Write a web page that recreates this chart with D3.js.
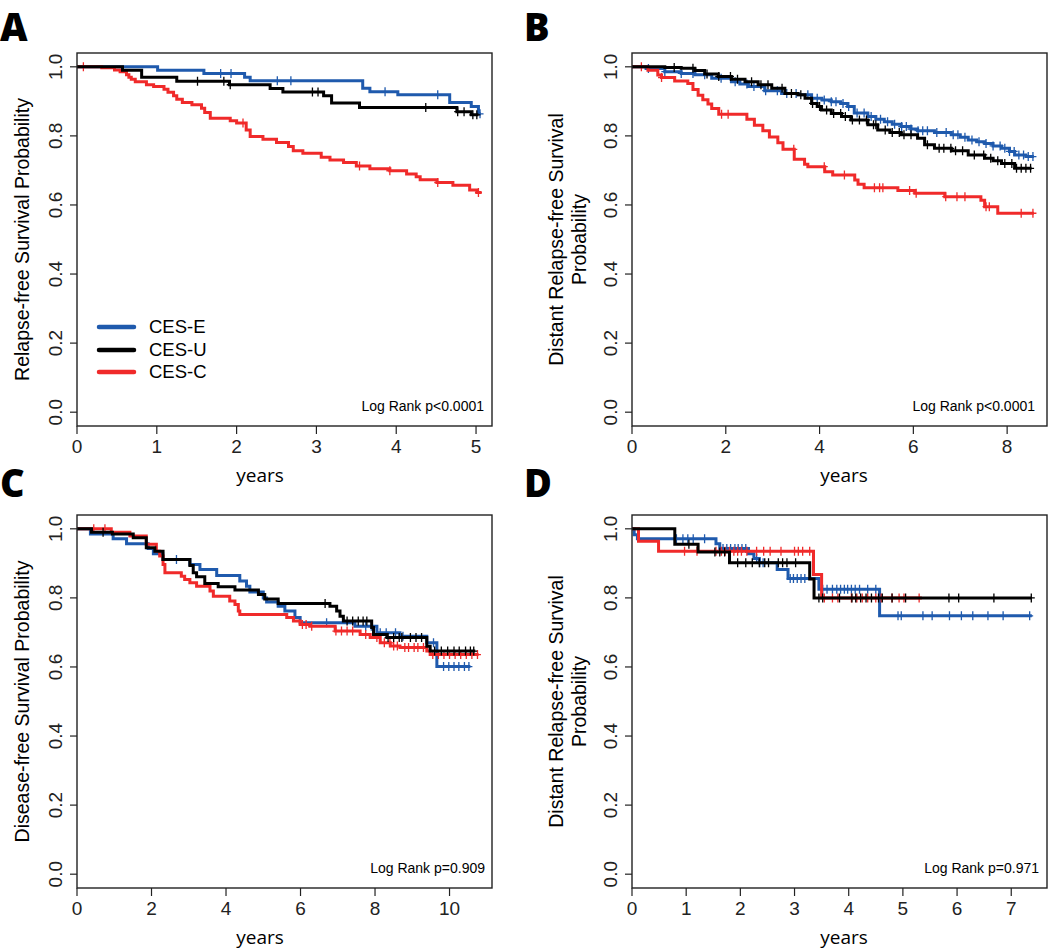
<!DOCTYPE html>
<html>
<head>
<meta charset="utf-8">
<script src="https://cdn.jsdelivr.net/npm/d3@7"></script>
<style>
  body { margin: 0; background: #fff; }
  svg { display: block; }
</style>
</head>
<body>
<svg width="1050" height="950"></svg>
<script>
// ---- panel A : relapse-free survival ----
const A_E_t = [0, 1.01, 1.59, 2.10, 2.17, 3.58, 3.67, 4.02, 4.67, 4.94, 5.03, 5.06]
const A_E_s = [1, 0.990, 0.981, 0.970, 0.960, 0.938, 0.928, 0.919, 0.897, 0.885, 0.864, 0.864]
const A_E_c = [1.80, 1.93, 2.51, 2.68, 3.86, 4.52, 5.05]
const A_U_t = [0, 0.57, 0.81, 1.25, 1.91, 2.42, 2.58, 3.09, 3.19, 3.54, 4.76, 4.94, 5.03]
const A_U_s = [1, 0.990, 0.970, 0.958, 0.948, 0.937, 0.927, 0.916, 0.895, 0.882, 0.870, 0.861, 0.861]
const A_U_c = [1.51, 1.84, 1.92, 2.95, 3.02, 4.37, 4.77, 4.85, 4.96, 5.01]
const A_C_t = [0, 0.31, 0.47, 0.54, 0.62, 0.65, 0.68, 0.73, 0.87, 0.96, 1.09, 1.14, 1.21, 1.25, 1.32, 1.44, 1.56, 1.60, 1.67, 1.92, 2.00, 2.12, 2.17, 2.33, 2.50, 2.65, 2.71, 2.83, 3.06, 3.17, 3.34, 3.50, 3.67, 3.92, 4.13, 4.25, 4.30, 4.51, 4.71, 4.92, 5.01, 5.07]
const A_C_s = [1, 0.997, 0.991, 0.986, 0.977, 0.970, 0.964, 0.957, 0.948, 0.943, 0.935, 0.926, 0.916, 0.906, 0.897, 0.890, 0.880, 0.868, 0.851, 0.844, 0.837, 0.817, 0.798, 0.790, 0.781, 0.769, 0.757, 0.750, 0.738, 0.730, 0.723, 0.713, 0.705, 0.699, 0.690, 0.682, 0.673, 0.665, 0.657, 0.643, 0.636, 0.636]
const A_C_c = [0.08, 2.08, 3.54, 3.92, 4.52, 5.03]

// ---- panel B : distant relapse-free survival ----
const B_E_t = [0, 0.30, 0.70, 1.05, 1.34, 1.70, 2.12, 2.30, 2.48, 2.83, 3.19, 3.54, 3.83, 4.05, 4.25, 4.45, 4.60, 4.74, 5.03, 5.20, 5.38, 5.55, 5.74, 5.95, 6.09, 6.45, 6.81, 7.00, 7.17, 7.35, 7.52, 7.70, 7.88, 8.05, 8.16, 8.40, 8.57]
const B_E_s = [1, 0.995, 0.986, 0.981, 0.977, 0.967, 0.957, 0.950, 0.943, 0.931, 0.923, 0.919, 0.909, 0.904, 0.899, 0.894, 0.885, 0.866, 0.856, 0.848, 0.841, 0.834, 0.827, 0.820, 0.815, 0.810, 0.803, 0.796, 0.788, 0.783, 0.778, 0.771, 0.764, 0.755, 0.745, 0.740, 0.740]
const B_E_c = [0.35, 0.70, 1.05, 1.30, 1.55, 1.90, 2.20, 2.45, 2.60, 2.85, 3.10, 3.30, 3.50, 3.75, 3.95, 4.10, 4.25, 4.35, 4.50, 4.62, 4.80, 4.95, 5.10, 5.30, 5.45, 5.60, 5.75, 5.85, 5.95, 6.10, 6.20, 6.30, 6.50, 6.70, 6.85, 6.95, 7.10, 7.25, 7.40, 7.55, 7.70, 7.85, 7.95, 8.05, 8.15, 8.25, 8.35, 8.45, 8.55]
const B_U_t = [0, 0.70, 1.05, 1.34, 1.55, 1.84, 2.12, 2.41, 2.69, 2.98, 3.26, 3.54, 3.69, 3.83, 3.95, 4.04, 4.25, 4.47, 4.67, 5.03, 5.24, 5.50, 5.74, 6.09, 6.24, 6.45, 6.81, 7.17, 7.52, 7.70, 7.88, 8.16, 8.52]
const B_U_s = [1, 0.998, 0.996, 0.989, 0.979, 0.972, 0.964, 0.957, 0.948, 0.938, 0.923, 0.919, 0.909, 0.894, 0.885, 0.875, 0.865, 0.856, 0.846, 0.832, 0.817, 0.810, 0.803, 0.793, 0.774, 0.764, 0.757, 0.745, 0.735, 0.728, 0.720, 0.706, 0.706]
const B_U_c = [0.90, 1.30, 1.60, 1.85, 2.10, 2.25, 2.55, 2.75, 2.90, 3.20, 3.40, 3.60, 3.85, 4.00, 4.15, 4.30, 4.45, 4.55, 4.70, 4.85, 5.00, 5.15, 5.20, 5.40, 5.55, 5.70, 5.80, 5.95, 6.30, 6.55, 6.65, 6.80, 6.90, 7.05, 7.30, 7.50, 7.65, 7.80, 7.95, 8.10, 8.20, 8.30, 8.40, 8.50]
const B_C_t = [0, 0.34, 0.55, 0.63, 0.91, 1.19, 1.30, 1.41, 1.51, 1.62, 1.70, 1.85, 2.45, 2.61, 2.79, 2.93, 3.11, 3.22, 3.46, 3.68, 3.75, 4.11, 4.28, 4.75, 4.82, 4.95, 5.67, 6.03, 6.67, 7.44, 7.52, 7.80, 8.57]
const B_C_s = [1, 0.990, 0.976, 0.969, 0.959, 0.952, 0.934, 0.918, 0.905, 0.892, 0.879, 0.863, 0.848, 0.831, 0.815, 0.797, 0.780, 0.761, 0.732, 0.718, 0.711, 0.696, 0.687, 0.672, 0.660, 0.650, 0.642, 0.634, 0.624, 0.614, 0.595, 0.576, 0.576]
const B_C_c = [0.20, 0.63, 1.91, 2.05, 3.45, 4.10, 4.53, 5.17, 5.28, 5.35, 5.92, 6.06, 6.69, 6.93, 7.10, 7.55, 7.62, 8.30, 8.55]

// ---- panel C : disease-free survival ----
const C_E_t = [0, 0.36, 0.97, 1.33, 1.91, 2.05, 2.30, 3.03, 3.30, 3.75, 4.37, 4.55, 4.64, 5.00, 5.09, 5.40, 5.58, 5.85, 5.99, 7.46, 8.05, 8.67, 9.39, 9.66, 10.56]
const C_E_s = [1, 0.985, 0.971, 0.957, 0.943, 0.928, 0.911, 0.897, 0.882, 0.865, 0.849, 0.834, 0.817, 0.800, 0.788, 0.776, 0.762, 0.743, 0.728, 0.718, 0.699, 0.689, 0.670, 0.601, 0.601]
const C_E_c = [2.67, 6.70, 7.75, 7.90, 8.14, 8.30, 8.55, 8.75, 9.57, 9.84, 9.98, 10.12, 10.25, 10.40, 10.52]
const C_U_t = [0, 0.39, 0.95, 1.51, 1.86, 2.09, 2.31, 3.03, 3.12, 3.21, 3.43, 3.79, 4.24, 4.87, 5.04, 5.40, 6.79, 6.97, 7.06, 7.15, 7.91, 7.96, 8.32, 9.39, 9.48, 10.69]
const C_U_s = [1, 0.990, 0.985, 0.974, 0.945, 0.935, 0.911, 0.894, 0.873, 0.861, 0.842, 0.832, 0.823, 0.810, 0.797, 0.784, 0.776, 0.762, 0.747, 0.733, 0.714, 0.694, 0.685, 0.660, 0.646, 0.646]
const C_U_c = [0.70, 6.66, 7.25, 7.40, 7.55, 7.68, 7.78, 8.35, 8.50, 8.65, 8.72, 8.95, 9.10, 9.25, 9.60, 9.78, 9.95, 10.12, 10.26, 10.43, 10.56, 10.65]
const C_C_t = [0, 0.92, 1.42, 1.86, 2.13, 2.22, 2.31, 2.36, 2.80, 2.89, 3.03, 3.21, 3.57, 3.66, 4.10, 4.24, 4.33, 4.37, 5.63, 5.81, 5.99, 6.25, 6.93, 7.60, 7.87, 8.14, 8.41, 8.67, 9.39, 9.48, 10.78]
const C_C_s = [1, 0.990, 0.979, 0.955, 0.935, 0.921, 0.897, 0.873, 0.863, 0.853, 0.844, 0.834, 0.820, 0.805, 0.791, 0.781, 0.762, 0.752, 0.743, 0.733, 0.723, 0.718, 0.704, 0.694, 0.685, 0.670, 0.661, 0.656, 0.646, 0.636, 0.636]
const C_C_c = [0.45, 0.75, 6.05, 6.15, 6.30, 6.95, 7.10, 7.25, 7.40, 7.75, 8.05, 8.25, 8.40, 8.50, 8.60, 8.80, 8.90, 9.05, 9.15, 9.30, 9.55, 9.70, 9.85, 10.00, 10.15, 10.30, 10.45, 10.60, 10.75]

// ---- panel D : distant relapse-free survival ----
const D_E_t = [0, 0.04, 0.10, 1.55, 1.62, 2.15, 2.25, 2.35, 2.68, 2.88, 3.45, 4.57, 7.38]
const D_E_s = [1, 0.983, 0.971, 0.957, 0.943, 0.928, 0.914, 0.902, 0.882, 0.856, 0.825, 0.748, 0.748]
const D_E_c = [0.82, 0.94, 1.03, 1.13, 1.34, 1.68, 1.75, 1.82, 1.90, 1.96, 2.03, 2.10, 2.30, 2.36, 2.42, 2.92, 2.98, 3.05, 3.12, 3.19, 3.52, 3.60, 3.70, 3.78, 3.85, 3.92, 3.98, 4.05, 4.12, 4.20, 4.35, 4.50, 4.91, 4.97, 5.37, 5.54, 5.86, 6.08, 6.29, 6.57, 6.85, 7.34]
const D_U_t = [0, 0.79, 1.22, 1.80, 3.28, 3.36, 7.37]
const D_U_s = [1, 0.955, 0.933, 0.902, 0.855, 0.800, 0.800]
const D_U_c = [1.05, 1.53, 1.62, 1.71, 1.95, 2.10, 2.22, 2.35, 2.45, 2.52, 2.70, 2.78, 2.86, 3.02, 3.45, 3.52, 3.83, 4.06, 4.13, 4.22, 4.32, 4.42, 4.55, 4.62, 4.80, 5.05, 5.85, 6.03, 6.68, 7.37]
const D_C_t = [0, 0.12, 0.49, 3.35, 3.50, 5.35]
const D_C_s = [1, 0.964, 0.935, 0.868, 0.800, 0.800]
const D_C_c = [0.97, 1.20, 1.55, 1.65, 1.72, 1.80, 1.88, 1.95, 2.02, 2.12, 2.30, 2.43, 2.55, 2.75, 3.00, 3.07, 3.15, 3.28, 3.55, 3.70, 3.80, 4.05, 4.15, 4.25, 4.35, 4.50, 4.60, 4.80, 4.93, 5.02, 5.30]

const groups = ["CES-E", "CES-U", "CES-C"]
const groupColors = ["#1f5aad", "#000000", "#f02a2a"]
const yTicks = [0, 0.2, 0.4, 0.6, 0.8, 1.0]

const panels = [
	{ letter: "A", left: 77, top: 53, xMax: 5.2, xTicks: [0, 1, 2, 3, 4, 5], yearsX: 260, pRight: 484,
		ylab: ["Relapse-free Survival Probability"], p: "Log Rank p<0.0001", legend: true,
		series: [[A_E_t, A_E_s, A_E_c], [A_C_t, A_C_s, A_C_c], [A_U_t, A_U_s, A_U_c]] },
	{ letter: "B", left: 632, top: 53, xMax: 8.85, xTicks: [0, 2, 4, 6, 8], yearsX: 844, pRight: 1035,
		ylab: ["Distant Relapse-free Survival", "Probability"], p: "Log Rank p<0.0001",
		series: [[B_E_t, B_E_s, B_E_c], [B_C_t, B_C_s, B_C_c], [B_U_t, B_U_s, B_U_c]] },
	{ letter: "C", left: 77, top: 515, xMax: 11.14, xTicks: [0, 2, 4, 6, 8, 10], yearsX: 260, pRight: 485,
		ylab: ["Disease-free Survival Probability"], p: "Log Rank p=0.909",
		series: [[C_E_t, C_E_s, C_E_c], [C_C_t, C_C_s, C_C_c], [C_U_t, C_U_s, C_U_c]] },
	{ letter: "D", left: 632, top: 515, xMax: 7.66, xTicks: [0, 1, 2, 3, 4, 5, 6, 7], yearsX: 844, pRight: 1039,
		ylab: ["Distant Relapse-free Survival", "Probability"], p: "Log Rank p=0.971",
		series: [[D_E_t, D_E_s, D_E_c], [D_C_t, D_C_s, D_C_c], [D_U_t, D_U_s, D_U_c]] }
]
// drawing order: E, C, U (black on top)
const seriesColor = [groupColors[0], groupColors[2], groupColors[1]]

const pw = 415, ph = 373
const sans = "'Liberation Sans', Arial, sans-serif"
const svg = d3.select("svg")

panels.forEach(drawPanel)

function drawPanel(cfg) {
	const x = d3.scaleLinear().domain([0, cfg.xMax]).range([cfg.left, cfg.left + pw])
	const y = d3.scaleLinear().domain([-0.04, 1.04]).range([cfg.top + ph, cfg.top])
	const g = svg.append("g")
	const bottom = cfg.top + ph

	// panel letter (kept inside the page so the font box is not clipped)
	g.append("text")
		.attr("x", cfg.left < 300 ? 0 : 524)
		.attr("y", Math.max(cfg.top - 18, 41))
		.style("font-family", "'Open Sans', sans-serif")
		.style("font-weight", 800)
		.style("font-size", "38px")
		.text(cfg.letter)

	// curves
	const line = d3.line()
		.x(d => x(d[0]))
		.y(d => y(d[1]))
		.curve(d3.curveStepAfter)

	cfg.series.forEach((s, i) => {
		const [ts, ss, cs] = s
		g.append("path")
			.attr("d", line(d3.zip(ts, ss)))
			.attr("fill", "none")
			.attr("stroke", seriesColor[i])
			.attr("stroke-width", 3)
		g.append("g").selectAll("path")
			.data(cs)
			.enter()
			.append("path")
			.attr("d", c => {
				const idx = Math.max(0, d3.bisectRight(ts, c) - 1)
				const cx = x(c), cy = y(ss[idx])
				return `M${cx - 3.5},${cy}H${cx + 3.5}M${cx},${cy - 4.5}V${cy + 4.5}`
			})
			.attr("stroke", seriesColor[i])
			.attr("stroke-width", 1.3)
	})

	// box
	g.append("rect")
		.attr("x", cfg.left).attr("y", cfg.top)
		.attr("width", pw).attr("height", ph)
		.attr("fill", "none")
		.attr("stroke", "#222")
		.attr("stroke-width", 1.4)

	// x axis
	const xa = g.append("g")
	xa.selectAll("line").data(cfg.xTicks).enter().append("line")
		.attr("x1", d => x(d)).attr("x2", d => x(d))
		.attr("y1", bottom).attr("y2", bottom + 8)
		.attr("stroke", "#222").attr("stroke-width", 1.2)
	xa.selectAll("text").data(cfg.xTicks).enter().append("text")
		.attr("x", d => x(d)).attr("y", bottom + 27)
		.attr("text-anchor", "middle")
		.style("font-family", sans).style("font-size", "19px").style("fill", "#222")
		.text(d => d)
	g.append("text")
		.attr("x", cfg.yearsX).attr("y", bottom + 56)
		.attr("text-anchor", "middle")
		.style("font-family", "'Open Sans', sans-serif").style("font-size", "19px")
		.text("years")

	// y axis
	const ya = g.append("g")
	ya.selectAll("line").data(yTicks).enter().append("line")
		.attr("x1", cfg.left - 7).attr("x2", cfg.left)
		.attr("y1", d => y(d)).attr("y2", d => y(d))
		.attr("stroke", "#222").attr("stroke-width", 1.2)
	ya.selectAll("text").data(yTicks).enter().append("text")
		.attr("transform", d => `translate(${cfg.left - 15},${y(d)}) rotate(-90)`)
		.attr("text-anchor", "middle")
		.style("font-family", sans).style("font-size", "19px").style("fill", "#222")
		.text(d => d3.format(".1f")(d))

	const yc = cfg.top + ph / 2
	const labX = cfg.ylab.length === 1 ? [cfg.left - 55] : [cfg.left - 76, cfg.left - 53]
	cfg.ylab.forEach((t, i) => {
		g.append("text")
			.attr("transform", `translate(${labX[i]},${yc}) rotate(-90)`)
			.attr("text-anchor", "middle")
			.attr("dy", "0.35em")
			.style("font-family", sans).style("font-size", "19.5px")
			.text(t)
	})

	// log rank note
	g.append("text")
		.attr("x", cfg.pRight).attr("y", bottom - 15)
		.attr("text-anchor", "end")
		.style("font-family", sans).style("font-size", "14px")
		.text(cfg.p)

	if (cfg.legend) {
		const lg = g.append("g")
		const ly = [327, 350, 372]
		groups.forEach((name, i) => {
			lg.append("line")
				.attr("x1", cfg.left + 22).attr("x2", cfg.left + 57)
				.attr("y1", ly[i]).attr("y2", ly[i])
				.attr("stroke", groupColors[i]).attr("stroke-width", 4.5)
				.attr("stroke-linecap", "round")
			lg.append("text")
				.attr("x", cfg.left + 72).attr("y", ly[i])
				.attr("dy", "0.35em")
				.style("font-family", sans).style("font-size", "18.5px")
				.text(name)
		})
	}
}
</script>
</body>
</html>
